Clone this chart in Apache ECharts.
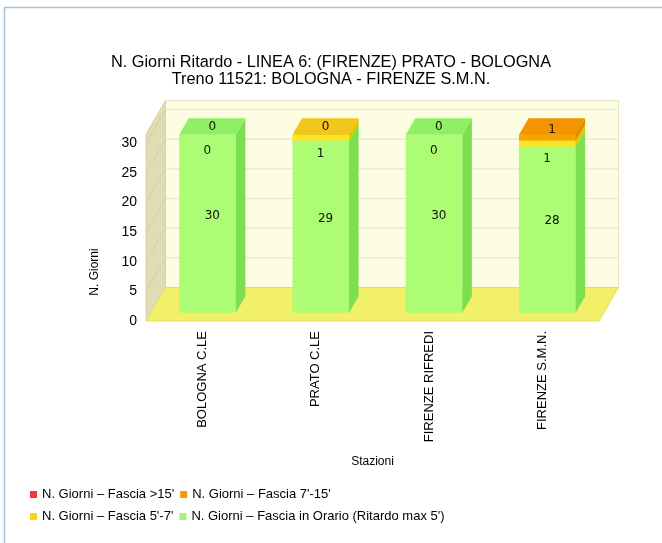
<!DOCTYPE html>
<html><head><meta charset="utf-8">
<script src="https://cdn.jsdelivr.net/npm/echarts@6/dist/echarts.min.js"></script>
<style>html,body{margin:0;padding:0;background:#fff}#c{width:662px;height:543px}</style>
</head><body><div id="c"></div>
<script>
// ---- data ----
const categories = ['BOLOGNA C.LE', 'PRATO C.LE', 'FIRENZE RIFREDI', 'FIRENZE S.M.N.'];
const seriesNames = [
  "N. Giorni \u2013 Fascia >15'",
  "N. Giorni \u2013 Fascia 7'-15'",
  "N. Giorni \u2013 Fascia 5'-7'",
  "N. Giorni \u2013 Fascia in Orario (Ritardo max 5')"
];
const over15 = [0, 0, 0, 0];
const from7to15 = [0, 0, 0, 1];
const from5to7 = [0, 1, 0, 1];
const onTime = [30, 29, 30, 28];
const yMin = 0, yMax = 30, yStep = 5;

// ---- style ----
const FONT = 'Liberation Sans, Arial, sans-serif';
const WALL_TOP = 31.5;       // wall height in axis units
const DX = 19.5, DY = -33.5; // full depth vector in pixels
const F1 = 0.25, F2 = 0.74;  // bar front / back depth fractions
const BAR_RATIO = 0.5;
const styles = {
  onTime:    { front: '#acfc74', side: '#7ddf50', top: '#8ef062', legend: '#9ef870' },
  from5to7:  { front: '#ffe51e', side: '#e8c400', top: '#f2c61c', legend: '#ffd21a' },
  from7to15: { front: '#f9a300', side: '#e08a00', top: '#f39400', legend: '#fb9800' },
  over15:    { front: '#f2383c', side: '#c82020', top: '#e02828', legend: '#f2383c' }
};

// stacking order bottom -> top
const stackOrder = [
  { key: 'onTime', name: seriesNames[3], values: onTime, label: true },
  { key: 'from5to7', name: seriesNames[2], values: from5to7, label: true },
  { key: 'from7to15', name: seriesNames[1], values: from7to15, label: true },
  { key: 'over15', name: seriesNames[0], values: over15, label: false }
];

function buildData(level) {
  return categories.map(function (c, i) {
    let base = 0;
    for (let k = 0; k < level; k++) base += stackOrder[k].values[i];
    const v = stackOrder[level].values[i];
    return [i, base, base + v, v];
  });
}

function labelCenterY(api, ci, level) {
  let base = 0;
  for (let k = 0; k < level; k++) base += stackOrder[k].values[ci];
  const v = stackOrder[level].values[ci];
  const a = api.coord([ci, base])[1], b = api.coord([ci, base + v])[1];
  return (a + b) / 2 + DY * (F1 + F2) / 2;
}

function makeRender(level) {
  const st = styles[stackOrder[level].key];
  return function (params, api) {
    const ci = api.value(0), base = api.value(1), top = api.value(2), val = api.value(3);
    const band = api.size([1, 0])[0];
    const c0 = api.coord([ci, base]);
    const c1 = api.coord([ci, top]);
    const half = band * BAR_RATIO / 2;
    const fx = DX * F1, fy = DY * F1;
    const sdx = DX * (F2 - F1), sdy = DY * (F2 - F1);
    const xl = c0[0] - half + fx, xr = c0[0] + half + fx;
    const yb = c0[1] + fy, yt = c1[1] + fy;
    const children = [];
    if (val > 0) {
      children.push({ type: 'polygon', shape: { points: [[xl, yt], [xr, yt], [xr, yb], [xl, yb]] }, style: { fill: st.front } });
      children.push({ type: 'polygon', shape: { points: [[xr, yt], [xr + sdx, yt + sdy], [xr + sdx, yb + sdy], [xr, yb]] }, style: { fill: st.side } });
      children.push({ type: 'polygon', shape: { points: [[xl, yt], [xr, yt], [xr + sdx, yt + sdy], [xl + sdx, yt + sdy]] }, style: { fill: st.top } });
    }
    if (stackOrder[level].label) {
      let lx = c0[0] + DX * (F1 + F2) / 2;
      let ly = labelCenterY(api, ci, level);
      if (level > 0 && level < stackOrder.length - 1 && stackOrder[level + 1].label) {
        const above = labelCenterY(api, ci, level + 1);
        if (ly - above < 18) { ly += 24; lx -= 5; }
      }
      children.push({ type: 'text', style: { text: String(val), x: lx, y: ly, align: 'center', verticalAlign: 'middle', fill: '#111', font: '12px "DejaVu Sans", sans-serif' } });
    }
    return { type: 'group', children: children };
  };
}

function renderWalls(params, api) {
  const cs = params.coordSys;
  const L = cs.x, R = cs.x + cs.width;
  const y0 = api.coord([0, yMin])[1];
  const yT = api.coord([0, WALL_TOP])[1];
  const ch = [];
  ch.push({ type: 'polygon', shape: { points: [[L + DX, yT + DY], [R + DX, yT + DY], [R + DX, y0 + DY], [L + DX, y0 + DY]] }, style: { fill: '#fdfde3', stroke: '#e6e4c8', lineWidth: 1 } });
  ch.push({ type: 'polygon', shape: { points: [[L, yT], [L + DX, yT + DY], [L + DX, y0 + DY], [L, y0]] }, style: { fill: '#e0dcb4', stroke: '#d6d2a8', lineWidth: 1 } });
  for (let v = yMin + yStep; v <= yMax; v += yStep) {
    const yv = api.coord([0, v])[1];
    ch.push({ type: 'line', shape: { x1: L + DX, y1: yv + DY, x2: R + DX, y2: yv + DY }, style: { stroke: '#e8e6cc', lineWidth: 1.2 } });
    ch.push({ type: 'line', shape: { x1: L, y1: yv, x2: L + DX, y2: yv + DY }, style: { stroke: '#d4cfab', lineWidth: 1 } });
  }
  ch.push({ type: 'polygon', shape: { points: [[L, y0], [R, y0], [R + DX, y0 + DY], [L + DX, y0 + DY]] }, style: { fill: '#f2f068', stroke: '#e4e05c', lineWidth: 1 } });
  return { type: 'group', children: ch };
}

const series = [{
  type: 'custom', name: '__walls', z: 1, silent: true,
  renderItem: renderWalls, data: [[0, 0]], encode: { x: 0, y: 1 }
}];
stackOrder.forEach(function (s, level) {
  series.push({
    type: 'custom', name: s.name, z: 2 + level,
    itemStyle: { color: styles[s.key].legend },
    renderItem: makeRender(level),
    data: buildData(level),
    encode: { x: 0, y: 2 }
  });
});

const chart = echarts.init(document.getElementById('c'));
chart.setOption({
  animation: false,
  backgroundColor: '#ffffff',
  title: {
    text: 'N. Giorni Ritardo - LINEA 6: (FIRENZE) PRATO - BOLOGNA\nTreno 11521: BOLOGNA - FIRENZE S.M.N.',
    left: 'center', top: 54, padding: 0,
    textStyle: { fontFamily: FONT, fontSize: 16.3, fontWeight: 'normal', color: '#000', lineHeight: 17, align: 'center' }
  },
  legend: [{
    data: [seriesNames[0], seriesNames[1]],
    left: 30, top: 488, padding: 0, itemWidth: 7, itemHeight: 7, itemGap: 6, icon: 'rect',
    textStyle: { fontFamily: FONT, fontSize: 13, color: '#000' }
  }, {
    data: [seriesNames[2], seriesNames[3]],
    left: 30, top: 510, padding: 0, itemWidth: 7, itemHeight: 7, itemGap: 6, icon: 'rect',
    textStyle: { fontFamily: FONT, fontSize: 13, color: '#000' }
  }],
  grid: { left: 146, right: 63, top: 143, bottom: 222, containLabel: false },
  xAxis: {
    type: 'category', data: categories,
    name: 'Stazioni', nameLocation: 'middle', nameGap: 135,
    nameTextStyle: { fontFamily: FONT, fontSize: 12, color: '#000' },
    axisLine: { show: false }, axisTick: { show: false }, splitLine: { show: false },
    axisLabel: { rotate: 90, interval: 0, margin: 10, fontFamily: FONT, fontSize: 13, color: '#000' }
  },
  yAxis: {
    type: 'value', min: yMin, max: yMax, interval: yStep,
    axisLine: { show: false }, axisTick: { show: false }, splitLine: { show: false },
    axisLabel: { margin: 9, fontFamily: FONT, fontSize: 14, color: '#000' }
  },
  graphic: [
    { type: 'polyline', silent: true, shape: { points: [[4.5, 543], [4.5, 7.5], [662, 7.5]] }, style: { stroke: '#a9c0e0', lineWidth: 1.5, fill: null } },
    { type: 'text', silent: true, x: 95, y: 272, rotation: Math.PI / 2, style: { text: 'N. Giorni', align: 'center', verticalAlign: 'middle', font: '12px ' + FONT, fill: '#000' } }
  ],
  series: series
});
</script>
</body></html>
